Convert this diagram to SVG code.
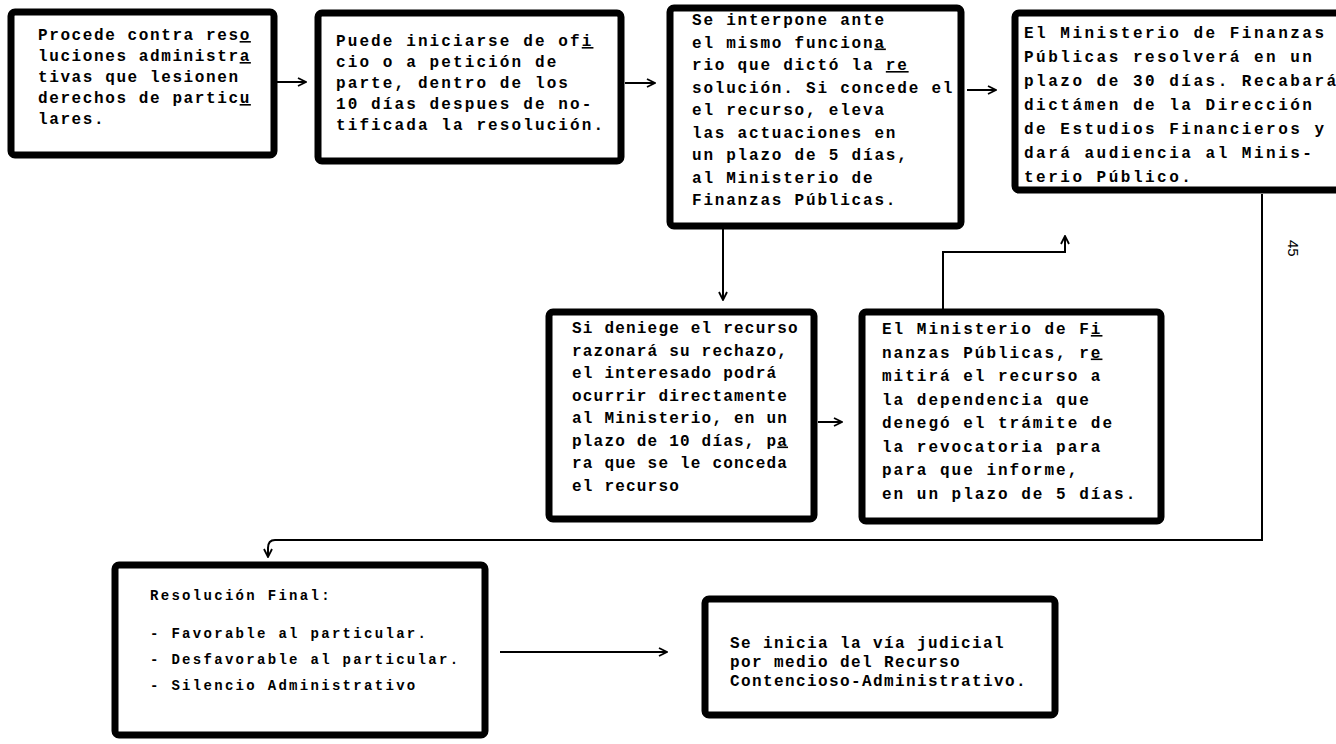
<svg xmlns="http://www.w3.org/2000/svg" width="1336" height="744" viewBox="0 0 1336 744">
<defs>
<style>
.box{fill:#fff;stroke:#000;stroke-width:7;stroke-linejoin:round}
.t{font-family:"Liberation Mono","DejaVu Sans Mono",monospace;font-weight:bold;font-size:16px;fill:#000}
.s{font-family:"Liberation Mono","DejaVu Sans Mono",monospace;font-weight:bold;font-size:14px;fill:#000;letter-spacing:2.3px}
.u{text-decoration:underline}
.c{fill:none;stroke:#000;stroke-width:2}
.pg{font-family:"Liberation Sans",Arial,sans-serif;font-size:15px;fill:#000}
</style>
<marker id="ah" viewBox="0 0 10 10" refX="9" refY="5" markerWidth="10" markerHeight="10" markerUnits="userSpaceOnUse" orient="auto">
<path d="M1,1 L9,5 L1,9" fill="none" stroke="#000" stroke-width="1.8"/>
</marker>
</defs>
<rect width="1336" height="744" fill="#fff"/>

<g id="connectors">
<line class="c" x1="277" y1="82" x2="306" y2="82" marker-end="url(#ah)"/>
<line class="c" x1="625" y1="83" x2="655" y2="83" marker-end="url(#ah)"/>
<line class="c" x1="967" y1="90" x2="996" y2="90" marker-end="url(#ah)"/>
<line class="c" x1="723" y1="229" x2="723" y2="300" marker-end="url(#ah)"/>
<line class="c" x1="818" y1="422" x2="842" y2="422" marker-end="url(#ah)"/>
<path class="c" d="M943,309 L943,252 L1065,252 L1065,236" marker-end="url(#ah)"/>
<path class="c" d="M1262,194 L1262,540 L275,540 Q268,540 268,548 L268,557" marker-end="url(#ah)"/>
<line class="c" x1="500" y1="652" x2="667" y2="652" marker-end="url(#ah)"/>
</g>

<g id="node-1">
<rect class="box" x="11" y="12" width="263" height="143" rx="4"/>
<text class="t" style="letter-spacing:1.6px">
<tspan x="38" y="40">Procede contra res<tspan class="u">o</tspan></tspan>
<tspan x="38" y="61">luciones administr<tspan class="u">a</tspan></tspan>
<tspan x="38" y="82">tivas que lesionen</tspan>
<tspan x="38" y="103">derechos de partic<tspan class="u">u</tspan></tspan>
<tspan x="38" y="124">lares.</tspan>
</text>
</g>

<g id="node-2">
<rect class="box" x="318" y="13" width="303" height="148" rx="4"/>
<text class="t" style="letter-spacing:2.1px">
<tspan x="336" y="46">Puede iniciarse de of<tspan class="u">i</tspan></tspan>
<tspan x="336" y="67">cio o a petición de</tspan>
<tspan x="336" y="88">parte, dentro de los</tspan>
<tspan x="336" y="109">10 días despues de no-</tspan>
<tspan x="336" y="130">tificada la resolución.</tspan>
</text>
</g>

<g id="node-3">
<rect class="box" x="670" y="8" width="291" height="218" rx="4"/>
<text class="t" style="letter-spacing:1.8px">
<tspan x="692" y="25">Se interpone ante</tspan>
<tspan x="692" y="47.5">el mismo funcion<tspan class="u">a</tspan></tspan>
<tspan x="692" y="70">rio que dictó la <tspan class="u">re</tspan></tspan>
<tspan x="692" y="92.5">solución. Si concede el</tspan>
<tspan x="692" y="115">el recurso, eleva</tspan>
<tspan x="692" y="137.5">las actuaciones en</tspan>
<tspan x="692" y="160">un plazo de 5 días,</tspan>
<tspan x="692" y="182.5">al Ministerio de</tspan>
<tspan x="692" y="205">Finanzas Públicas.</tspan>
</text>
</g>

<g id="node-5">
<rect class="box" x="1015" y="13" width="340" height="177" rx="4"/>
<text class="t" style="letter-spacing:2.5px">
<tspan x="1024" y="38">El Ministerio de Finanzas</tspan>
<tspan x="1024" y="62">Públicas resolverá en  un</tspan>
<tspan x="1024" y="86">plazo de 30 días. Recabará</tspan>
<tspan x="1024" y="110">dictámen de la Dirección</tspan>
<tspan x="1024" y="134">de Estudios Financieros y</tspan>
<tspan x="1024" y="158">dará audiencia al Minis-</tspan>
<tspan x="1024" y="182">terio Público.</tspan>
</text>
</g>

<text class="pg" transform="translate(1288,240) rotate(90)">45</text>

<g id="node-4">
<rect class="box" x="549" y="312" width="265" height="207" rx="4"/>
<text class="t" style="letter-spacing:1.2px">
<tspan x="572" y="333">Si deniege el recurso</tspan>
<tspan x="572" y="355.5">razonará su rechazo,</tspan>
<tspan x="572" y="378">el interesado podrá</tspan>
<tspan x="572" y="400.5">ocurrir directamente</tspan>
<tspan x="572" y="423">al Ministerio, en un</tspan>
<tspan x="572" y="445.5">plazo de 10 días, p<tspan class="u">a</tspan></tspan>
<tspan x="572" y="468">ra que se le conceda</tspan>
<tspan x="572" y="490.5">el recurso</tspan>
</text>
</g>

<g id="node-6">
<rect class="box" x="862" y="312" width="299" height="209" rx="4"/>
<text class="t" style="letter-spacing:2px">
<tspan x="882" y="334">El Ministerio de F<tspan class="u">i</tspan></tspan>
<tspan x="882" y="357.5">nanzas Públicas, r<tspan class="u">e</tspan></tspan>
<tspan x="882" y="381">mitirá el recurso a</tspan>
<tspan x="882" y="404.5">la dependencia que</tspan>
<tspan x="882" y="428">denegó el trámite de</tspan>
<tspan x="882" y="451.5">la revocatoria para</tspan>
<tspan x="882" y="475">para que informe,</tspan>
<tspan x="882" y="498.5">en un plazo de 5 días.</tspan>
</text>
</g>

<g id="node-8">
<rect class="box" x="115" y="565" width="370" height="170" rx="4"/>
<text class="s">
<tspan x="150" y="600">Resolución Final:</tspan>
<tspan x="150" y="638">- Favorable al particular.</tspan>
<tspan x="150" y="664">- Desfavorable al particular.</tspan>
<tspan x="150" y="690">- Silencio Administrativo</tspan>
</text>
</g>

<g id="node-7">
<rect class="box" x="705" y="599" width="350" height="116" rx="4"/>
<text class="t" style="letter-spacing:1.4px">
<tspan x="730" y="648">Se inicia la vía judicial</tspan>
<tspan x="730" y="667">por medio del Recurso</tspan>
<tspan x="730" y="686">Contencioso-Administrativo.</tspan>
</text>
</g>
</svg>
